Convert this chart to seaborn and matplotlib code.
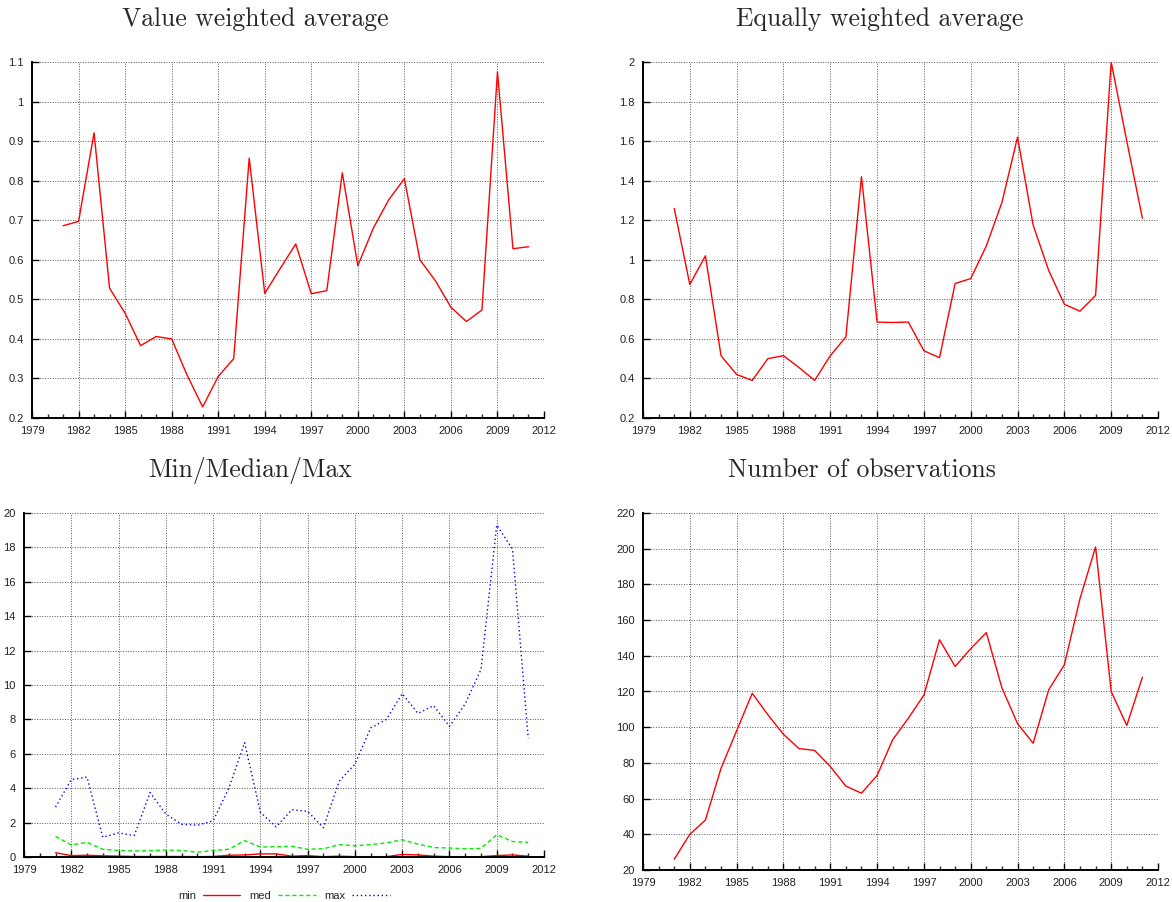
import numpy as np
import pandas as pd
import matplotlib
matplotlib.use('Agg')
import matplotlib.pyplot as plt
from matplotlib.ticker import FuncFormatter, MultipleLocator
import seaborn as sns

years = list(range(1981, 2012))

value_weighted = [0.686, 0.697, 0.921, 0.528, 0.465, 0.383, 0.406, 0.400, 0.308, 0.228,
                  0.305, 0.350, 0.857, 0.515, 0.578, 0.640, 0.514, 0.522, 0.820, 0.585,
                  0.680, 0.752, 0.805, 0.600, 0.547, 0.480, 0.444, 0.473, 1.075, 0.628,
                  0.633]

equal_weighted = [1.26, 0.875, 1.02, 0.515, 0.42, 0.39, 0.50, 0.515, 0.455, 0.39,
                  0.515, 0.61, 1.42, 0.685, 0.683, 0.685, 0.54, 0.505, 0.88, 0.905,
                  1.07, 1.29, 1.62, 1.175, 0.945, 0.775, 0.74, 0.82, 2.0, 1.60,
                  1.21]

min_vals = [0.25, 0.08, 0.10, 0.07, 0.05, 0.03, 0.03, 0.03, 0.03, 0.02,
            0.03, 0.10, 0.12, 0.18, 0.18, 0.05, 0.08, 0.02, 0.05, 0.02,
            0.02, 0.02, 0.15, 0.12, 0.05, 0.02, 0.02, 0.02, 0.08, 0.12,
            0.05]

med_vals = [1.2, 0.7, 0.85, 0.45, 0.38, 0.35, 0.37, 0.40, 0.38, 0.28,
            0.38, 0.45, 0.95, 0.58, 0.60, 0.62, 0.45, 0.48, 0.72, 0.65,
            0.72, 0.82, 1.0, 0.75, 0.55, 0.52, 0.48, 0.50, 1.3, 0.9,
            0.85]

max_vals = [2.9, 4.5, 4.65, 1.15, 1.4, 1.25, 3.75, 2.5, 1.9, 1.85,
            2.1, 4.0, 6.65, 2.6, 1.75, 2.75, 2.65, 1.7, 4.4, 5.4,
            7.5, 8.0, 9.5, 8.35, 8.8, 7.6, 8.9, 10.9, 19.3, 17.9,
            6.9]

n_obs = [26, 40, 48, 77, 98, 119, 107, 96, 88, 87,
         78, 67, 63, 73, 93, 105, 118, 149, 134, 144,
         153, 122, 102, 91, 121, 135, 172, 201, 120, 101,
         128]

x_ticks = list(range(1979, 2013, 3))

sns.set_style('ticks')
plt.rcParams['font.family'] = ['Liberation Sans', 'DejaVu Sans']
plt.rcParams['xtick.direction'] = 'in'
plt.rcParams['ytick.direction'] = 'in'

TITLE_FONT = dict(family='cmr10', size=18.5)
TITLE_PAD = 26
TICK_SIZE = 8

df = pd.DataFrame({
    'year': years,
    'vw': value_weighted,
    'ew': equal_weighted,
    'min': min_vals,
    'med': med_vals,
    'max': max_vals,
    'n': n_obs,
})

fig = plt.figure(figsize=(11.72, 9.02), dpi=100)
W, H = 1172, 902


def make_axes(left, right, top, bottom):
    return fig.add_axes([left / W, 1 - bottom / H, (right - left) / W, (bottom - top) / H])


def style_axes(ax, ylim, ystep):
    ax.set_xlim(1979, 2012)
    ax.set_ylim(*ylim)
    ax.set_xticks(x_ticks)
    ax.xaxis.set_minor_locator(MultipleLocator(1))
    ax.yaxis.set_major_locator(MultipleLocator(ystep))
    ax.yaxis.set_major_formatter(FuncFormatter(lambda v, p: '%g' % round(v, 6)))
    ax.grid(True, which='major', color='#555555', linestyle=(0, (1, 1.6)), linewidth=0.7)
    for side in ['top', 'right']:
        ax.spines[side].set_visible(False)
    for side in ['left', 'bottom']:
        ax.spines[side].set_linewidth(1.4)
        ax.spines[side].set_color('black')
    ax.tick_params(which='major', length=5, width=1, labelsize=TICK_SIZE, colors='black',
                   labelcolor='#222222')
    ax.tick_params(axis='x', which='major', pad=6)
    ax.tick_params(axis='y', which='major', pad=6)
    ax.tick_params(which='minor', axis='x', length=3, width=1)
    ax.set_xlabel('')
    ax.set_ylabel('')


# title centres sit a bit left of the axes centres, like the original
ax1 = make_axes(32, 544, 62, 418)
sns.lineplot(data=df, x='year', y='vw', ax=ax1, color='red', linewidth=1)
style_axes(ax1, (0.2, 1.1), 0.1)
ax1.set_title('Value weighted average', x=(255 - 32) / 512, pad=TITLE_PAD, **TITLE_FONT)

ax2 = make_axes(643, 1158, 62, 418)
sns.lineplot(data=df, x='year', y='ew', ax=ax2, color='red', linewidth=1)
style_axes(ax2, (0.2, 2.0), 0.2)
ax2.set_title('Equally weighted average', x=(880 - 643) / 515, pad=TITLE_PAD, **TITLE_FONT)

ax3 = make_axes(24, 544, 513, 857)
sns.lineplot(data=df, x='year', y='min', ax=ax3, color='red', linewidth=1, label='min')
sns.lineplot(data=df, x='year', y='med', ax=ax3, color='#00ee00', linewidth=1,
             linestyle=(0, (3, 2)), label='med')
sns.lineplot(data=df, x='year', y='max', ax=ax3, color='blue', linewidth=1,
             linestyle=(0, (1, 2)), label='max')
style_axes(ax3, (0, 20), 2)
ax3.set_title('Min/Median/Max', x=(250 - 24) / 520, pad=TITLE_PAD, **TITLE_FONT)
ax3.legend(loc='upper center', bbox_to_anchor=(0.5, -0.07), ncol=3, frameon=False,
           markerfirst=False, fontsize=TICK_SIZE, handlelength=3.4, handletextpad=0.6,
           columnspacing=0.8)

ax4 = make_axes(643, 1158, 513, 870)
sns.lineplot(data=df, x='year', y='n', ax=ax4, color='red', linewidth=1)
style_axes(ax4, (20, 220), 20)
ax4.set_title('Number of observations', x=(862 - 643) / 515, pad=TITLE_PAD, **TITLE_FONT)

fig.savefig('out.png', dpi=100)
